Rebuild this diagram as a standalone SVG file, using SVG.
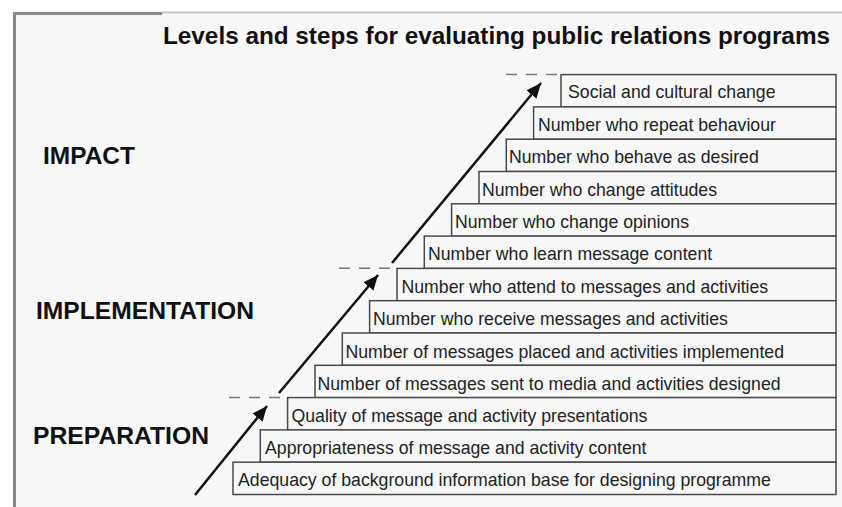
<svg xmlns="http://www.w3.org/2000/svg" width="842" height="507" viewBox="0 0 842 507">
  <style>
    .title { font-family: "Liberation Sans", Arial, sans-serif; font-weight: bold; font-size: 24px; fill: #111; }
    .level { font-family: "Liberation Sans", Arial, sans-serif; font-weight: bold; font-size: 24px; fill: #111; }
    .step rect { fill: #f7f7f7; stroke: #4a4a4a; stroke-width: 1.5; }
    .step text { font-family: "Liberation Sans", Arial, sans-serif; font-size: 17.7px; fill: #222; }
    .dash { stroke: #777; stroke-width: 1.5; stroke-dasharray: 11 9; fill: none; }
    .arrow { stroke: #111; stroke-width: 2.5; fill: none; marker-end: url(#head); }
  </style>
  <defs>
    <marker id="head" markerUnits="userSpaceOnUse" markerWidth="16" markerHeight="14" refX="15" refY="6.5" orient="auto">
      <path d="M0,0 L15,6.5 L0,13 Z" fill="#111"/>
    </marker>
  </defs>

  <!-- page panel -->
  <rect x="0" y="0" width="842" height="507" fill="#ffffff"/>
  <rect x="14" y="13" width="828" height="494" fill="#f7f7f7"/>
  <line x1="162" y1="12.5" x2="842" y2="12.5" stroke="#c4c4c4" stroke-width="2"/>
  <line x1="13" y1="13.5" x2="162" y2="13.5" stroke="#888" stroke-width="3"/>
  <line x1="14.5" y1="12" x2="14.5" y2="507" stroke="#888" stroke-width="3"/>

  <text class="title" x="163" y="44" textLength="667" lengthAdjust="spacingAndGlyphs">Levels and steps for evaluating public relations programs</text>

  <g id="level-impact"><text class="level" x="43" y="164" textLength="92" lengthAdjust="spacingAndGlyphs">IMPACT</text></g>
  <g id="level-implementation"><text class="level" x="36" y="319" textLength="218" lengthAdjust="spacingAndGlyphs">IMPLEMENTATION</text></g>
  <g id="level-preparation"><text class="level" x="33" y="444" textLength="176" lengthAdjust="spacingAndGlyphs">PREPARATION</text></g>

  <!-- staircase, top step first so lower steps draw over shared edges -->
  <g id="step-12" class="step"><rect x="561" y="74.6" width="275" height="32.3"/><text x="568" y="98">Social and cultural change</text></g>
  <g id="step-11" class="step"><rect x="533.6" y="106.9" width="302.4" height="32.3"/><text x="538" y="131">Number who repeat behaviour</text></g>
  <g id="step-10" class="step"><rect x="506.3" y="139.2" width="329.7" height="32.3"/><text x="509" y="163">Number who behave as desired</text></g>
  <g id="step-9" class="step"><rect x="479" y="171.5" width="357" height="32.3"/><text x="482" y="196">Number who change attitudes</text></g>
  <g id="step-8" class="step"><rect x="451.6" y="203.8" width="384.4" height="32.3"/><text x="455" y="228">Number who change opinions</text></g>
  <g id="step-7" class="step"><rect x="424.3" y="236.1" width="411.7" height="32.3"/><text x="428" y="260">Number who learn message content</text></g>
  <g id="step-6" class="step"><rect x="397" y="268.4" width="439" height="32.3"/><text x="401.5" y="293">Number who attend to messages and activities</text></g>
  <g id="step-5" class="step"><rect x="369.6" y="300.7" width="466.4" height="32.3"/><text x="373" y="325">Number who receive messages and activities</text></g>
  <g id="step-4" class="step"><rect x="342.3" y="333" width="493.7" height="32.3"/><text x="345.5" y="357.5">Number of messages placed and activities implemented</text></g>
  <g id="step-3" class="step"><rect x="315" y="365.3" width="521" height="32.3"/><text x="317.5" y="390">Number of messages sent to media and activities designed</text></g>
  <g id="step-2" class="step"><rect x="287.6" y="397.6" width="548.4" height="32.3"/><text x="291.5" y="422">Quality of message and activity presentations</text></g>
  <g id="step-1" class="step"><rect x="260.3" y="429.9" width="575.7" height="32.3"/><text x="265" y="454">Appropriateness of message and activity content</text></g>
  <g id="step-0" class="step"><rect x="233" y="462.2" width="603" height="32.3"/><text x="238" y="486">Adequacy of background information base for designing programme</text></g>

  <g id="connectors">
    <line class="dash" x1="229" y1="397.6" x2="287" y2="397.6"/>
    <line class="dash" x1="339" y1="268.2" x2="397" y2="268.2"/>
    <line class="dash" x1="506" y1="74.4" x2="561" y2="74.4"/>
    <line class="arrow" x1="195" y1="495" x2="267" y2="406"/>
    <line class="arrow" x1="279" y1="393" x2="378" y2="275"/>
    <line class="arrow" x1="392" y1="263" x2="541" y2="83"/>
  </g>
</svg>
